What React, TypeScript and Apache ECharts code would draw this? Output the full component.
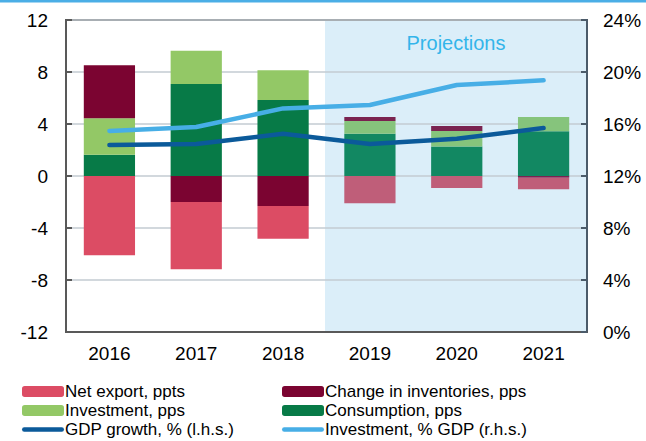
import React, { useEffect, useRef } from "react";
import * as echarts from "echarts";

const years = ["2016", "2017", "2018", "2019", "2020", "2021"];
const projectionYears = ["2019", "2020", "2021"];
const consumption = [1.64, 7.08, 5.85, 3.25, 2.26, 3.44];
const investment = [2.8, 2.56, 2.28, 0.98, 1.2, 1.1];
const inventories = [4.07, -2.0, -2.31, 0.31, 0.38, -0.13];
const netExport = [-6.1, -5.18, -2.51, -2.1, -0.92, -0.89];
const gdpGrowth = [2.38, 2.46, 3.25, 2.46, 2.87, 3.69];
const investmentGdp = [15.46, 15.77, 17.2, 17.46, 19.0, 19.36];

const W = 646;
const H = 441;
const GL = 66;
const GR = 587;
const GT = 20;
const GB = 332;
const FONT = "Liberation Sans, Arial, sans-serif";
const LINE_ICON = "path://M2.25,0H39.75A2.25,2.25 0 0 1 39.75,4.5H2.25A2.25,2.25 0 0 1 2.25,0Z";

export default function App() {
  const ref = useRef<HTMLDivElement>(null);
  useEffect(() => {
    if (!ref.current) return;
    const chart = echarts.init(ref.current, undefined, { renderer: "svg" });
    const mk = (vals: number[], base: string, proj: string) =>
      vals.map((v, i) => ({
        value: v,
        itemStyle: { color: projectionYears.includes(years[i]) ? proj : base },
      }));
    const projStart = years.indexOf(projectionYears[0]);
    const shadeX = GL + ((GR - GL) * projStart) / years.length - 1.5;
    const barCommon = { type: "bar", stack: "total", barWidth: "59%", z: 2 };
    const legendCommon = {
      orient: "vertical",
      top: 378,
      height: 62,
      itemWidth: 42,
      itemHeight: 11,
      itemGap: 2,
      selectedMode: false,
      textStyle: { fontSize: 17, color: "#000", fontFamily: FONT, lineHeight: 17, padding: [0, 0, 0, -4] },
    };
    chart.setOption({
      animation: false,
      textStyle: { fontFamily: FONT },
      grid: {
        left: GL,
        right: W - GR,
        top: GT,
        bottom: H - GB,
        show: true,
        borderColor: "#595959",
        borderWidth: 2,
        backgroundColor: "transparent",
      },
      legend: [
        {
          ...legendCommon,
          left: 17,
          data: ["Net export, ppts", "Investment, pps", { name: "GDP growth, % (l.h.s.)", icon: LINE_ICON }],
        },
        {
          ...legendCommon,
          left: 277,
          data: [
            "Change in inventories, pps",
            "Consumption, pps",
            { name: "Investment, % GDP (r.h.s.)", icon: LINE_ICON },
          ],
        },
      ],
      graphic: [
        { type: "rect", z: 0, shape: { x: 0, y: 0, width: W, height: 2.5 }, style: { fill: "#4aaee6" } },
        {
          type: "rect",
          z: -1,
          shape: { x: shadeX, y: GT, width: GR - shadeX, height: GB - GT },
          style: { fill: "#dbeef9" },
        },
        {
          type: "text",
          x: (shadeX + GR) / 2,
          y: 43,
          style: {
            text: "Projections",
            fill: "#33b5ea",
            font: `20px ${FONT}`,
            align: "center",
            verticalAlign: "middle",
          },
        },
      ],
      xAxis: {
        type: "category",
        data: years,
        axisLine: { onZero: false, lineStyle: { color: "#595959", width: 2 } },
        axisTick: { inside: true, length: 5, lineStyle: { color: "#595959", width: 2 } },
        axisLabel: { fontSize: 19, color: "#000", margin: 12 },
      },
      yAxis: [
        {
          type: "value",
          min: -12,
          max: 12,
          interval: 4,
          axisLine: { show: true, lineStyle: { color: "#595959", width: 2 } },
          axisTick: { show: true, inside: true, length: 6, lineStyle: { color: "#595959", width: 2 } },
          axisLabel: { fontSize: 19, color: "#000", margin: 18 },
          splitLine: { lineStyle: { color: "#c3cbd2", width: 1.5 } },
        },
        {
          type: "value",
          min: 0,
          max: 24,
          interval: 4,
          axisLine: { show: true, lineStyle: { color: "#4b5b6a", width: 2 } },
          axisTick: { show: true, inside: true, length: 6, lineStyle: { color: "#4b5b6a", width: 2 } },
          axisLabel: { fontSize: 19, color: "#000", margin: 16, formatter: "{value}%" },
          splitLine: { show: false },
        },
      ],
      series: [
        { ...barCommon, name: "Consumption, pps", color: "#077a47", data: mk(consumption, "#077a47", "#128862") },
        { ...barCommon, name: "Investment, pps", color: "#93c866", data: mk(investment, "#93c866", "#86c47c") },
        { ...barCommon, name: "Change in inventories, pps", color: "#7b0431", data: mk(inventories, "#7b0431", "#7a2350") },
        { ...barCommon, name: "Net export, ppts", color: "#dc4c64", data: mk(netExport, "#dc4c64", "#bf5e79") },
        {
          type: "line",
          name: "GDP growth, % (l.h.s.)",
          yAxisIndex: 0,
          data: gdpGrowth,
          symbol: "none",
          color: "#0b5a9a",
          itemStyle: { color: "#0b5a9a" },
          lineStyle: { width: 4.5, cap: "round", join: "round" },
          z: 4,
        },
        {
          type: "line",
          name: "Investment, % GDP (r.h.s.)",
          yAxisIndex: 1,
          data: investmentGdp,
          symbol: "none",
          color: "#47aee6",
          itemStyle: { color: "#47aee6" },
          lineStyle: { width: 4.5, cap: "round", join: "round" },
          z: 4,
        },
      ],
    });
    return () => chart.dispose();
  }, []);
  return (
    <div
      ref={ref}
      style={{ position: "fixed", left: 0, top: 0, width: W, height: H, background: "#fff" }}
    />
  );
}
